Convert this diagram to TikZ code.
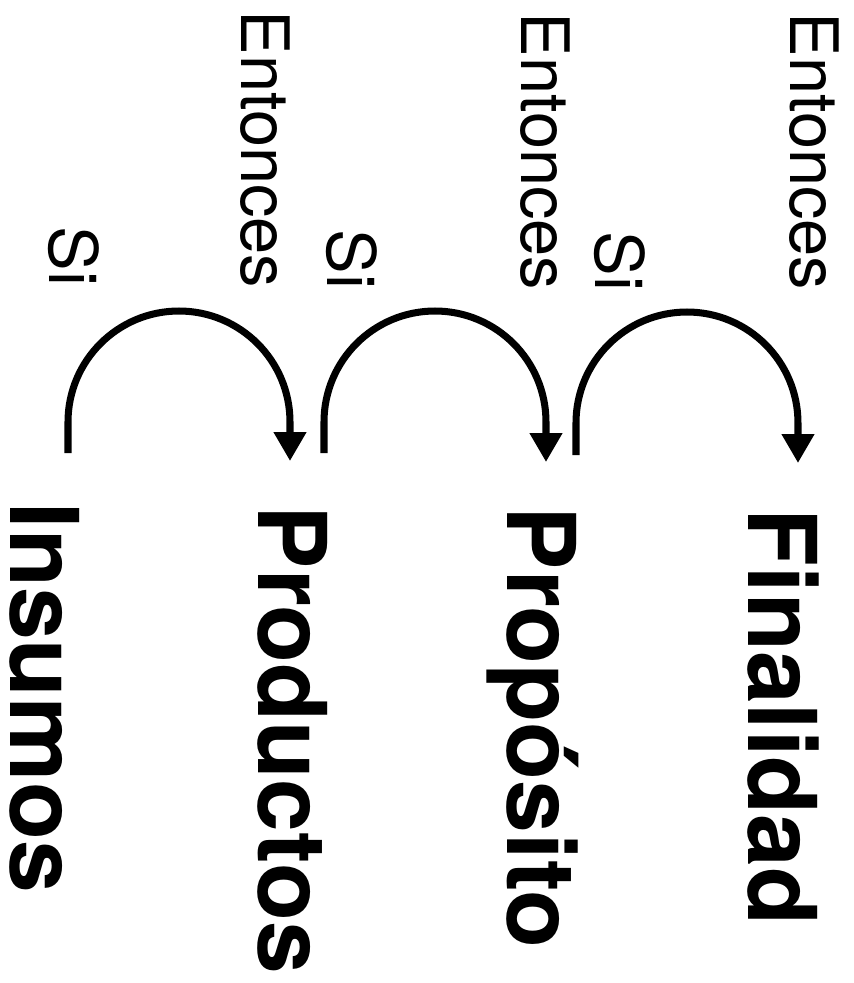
\documentclass[tikz,border=0pt]{standalone}
\usepackage{fontspec}
\setsansfont{TeX Gyre Heros}
\usetikzlibrary{arrows.meta}

\tikzset{
	stage/.style={rotate=-90, anchor=base west, inner sep=0pt,
		font=\sffamily\bfseries\fontsize{27}{30}\selectfont},
	cond/.style={rotate=-90, anchor=base east, inner sep=0pt,
		font=\sffamily\fontsize{19}{22}\selectfont},
	link/.style={line width=2pt, -{Triangle[width=8.8pt,length=8.2pt]}},
}

\begin{document}
\begin{tikzpicture}
	\useasboundingbox (0,0) rectangle (8.54,-9.83);
	
	% stages, read from top to bottom
	\node[stage] (ins) at (0.11,-5.02) {Insumos};
	\node[stage] (prod) at (2.58,-5.05) {Productos};
	\node[stage] (prop) at (5.08,-5.06) {Propósito};
	\node[stage] (fin) at (7.49,-5.08) {Finalidad};
	
	% if / then labels
	\node[cond] (si1) at (0.49,-2.87) {Si};
	\node[cond] (si2) at (3.28,-2.90) {Si};
	\node[cond] (si3) at (5.96,-2.92) {Si};
	\node[cond] (ent1) at (2.42,-2.89) {Entonces};
	\node[cond] (ent2) at (5.22,-2.91) {Entonces};
	\node[cond] (ent3) at (7.91,-2.91) {Entonces};
	
	\def\r{1.11}
	
	\coordinate (s1) at (0.68,-4.53);
	\coordinate (e1) at (2.90,-4.61);
	\coordinate (s2) at (3.24,-4.53);
	\coordinate (e2) at (5.46,-4.62);
	\coordinate (s3) at (5.76,-4.55);
	\coordinate (e3) at (7.98,-4.63);
	
	\draw[link] (s1) -- ++(0,0.31) arc[start angle=180, end angle=0, radius=\r] -- (e1);
	\draw[link] (s2) -- ++(0,0.31) arc[start angle=180, end angle=0, radius=\r] -- (e2);
	\draw[link] (s3) -- ++(0,0.32) arc[start angle=180, end angle=0, radius=\r] -- (e3);
\end{tikzpicture}
\end{document}
